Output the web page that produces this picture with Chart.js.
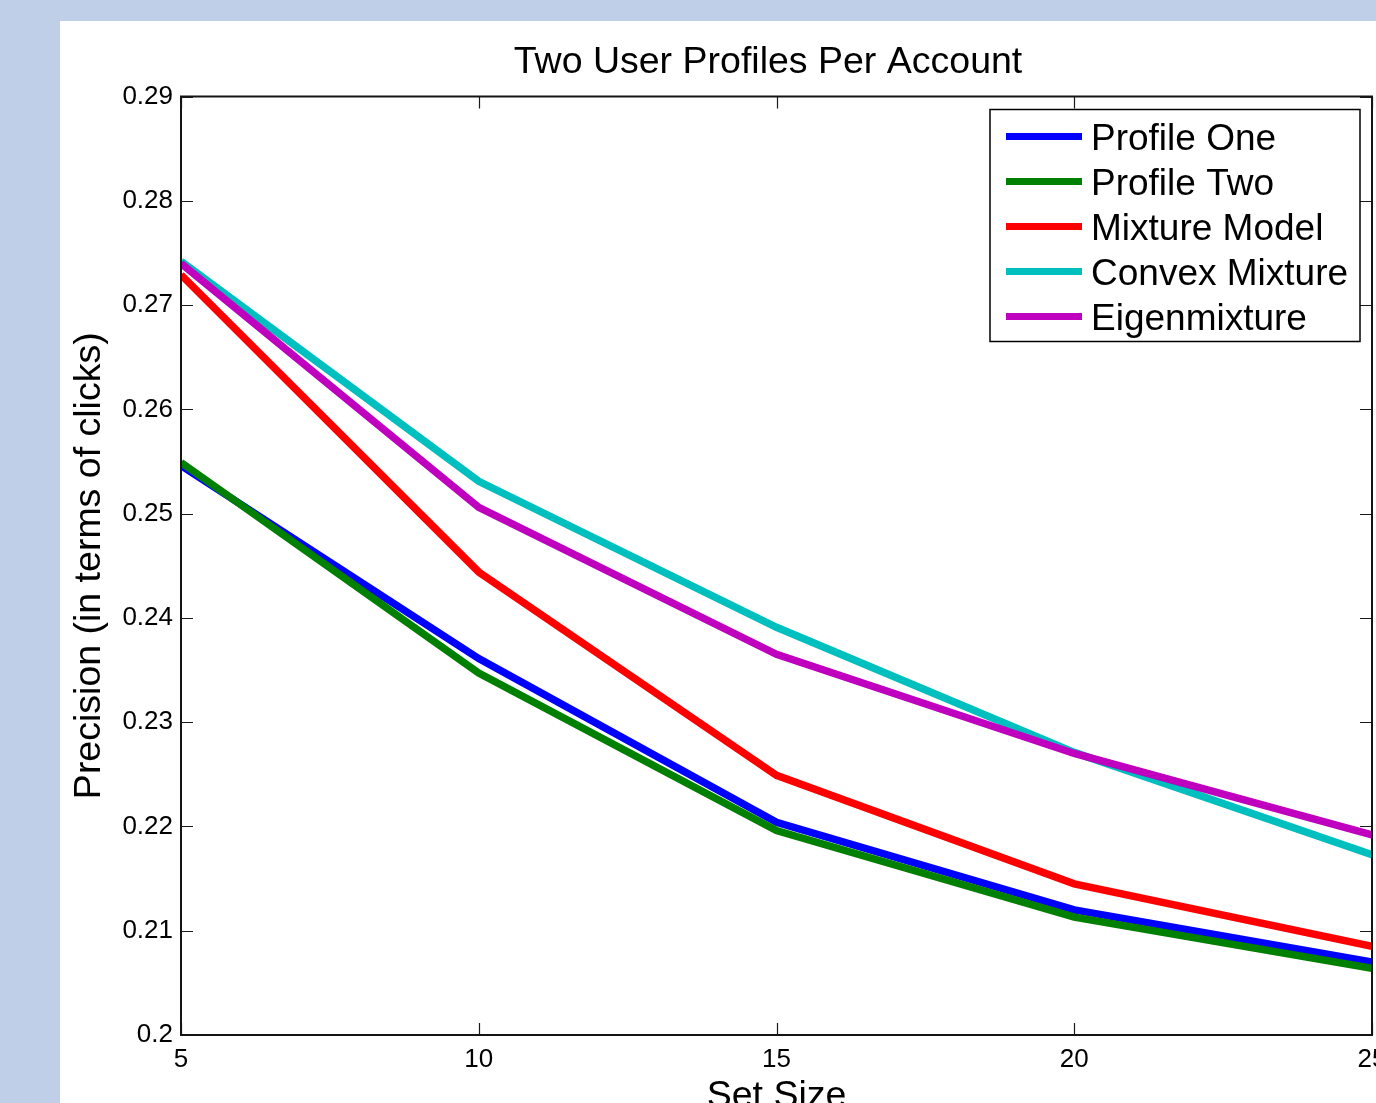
<!DOCTYPE html>
<html>
<head>
<meta charset="utf-8">
<script src="https://cdn.jsdelivr.net/npm/chart.js@4/dist/chart.umd.min.js"></script>
<style>
  html, body { margin: 0; padding: 0; width: 1376px; height: 1103px; overflow: hidden; background: #bfcfe8; }
  #panel { position: absolute; left: 60px; top: 21px; width: 1460px; height: 1200px; background: #ffffff; }
  #wrap { position: absolute; left: 0; top: 0; width: 1416px; height: 1094px; }
</style>
</head>
<body>
<div id="panel"><div id="wrap"><canvas id="c"></canvas></div></div>
<script>
// ---- data ----
const setSizes = [5, 10, 15, 20, 25];
const profileOne     = [0.2546, 0.2361, 0.2204, 0.2120, 0.2070];
const profileTwo     = [0.2549, 0.2347, 0.2196, 0.2113, 0.2064];
const mixtureModel   = [0.2729, 0.2444, 0.2249, 0.2145, 0.2085];
const convexMixture  = [0.2742, 0.2531, 0.2391, 0.2271, 0.2173];
const eigenmixture   = [0.2740, 0.2506, 0.2365, 0.2270, 0.2192];
const seriesNames = ['Profile One', 'Profile Two', 'Mixture Model', 'Convex Mixture', 'Eigenmixture'];
const xTicks = [5, 10, 15, 20, 25];
const yTicks = [0.2, 0.21, 0.22, 0.23, 0.24, 0.25, 0.26, 0.27, 0.28, 0.29];
const yTickLabels = ['0.2', '0.21', '0.22', '0.23', '0.24', '0.25', '0.26', '0.27', '0.28', '0.29'];

const colors = ['#0000ff', '#008000', '#ff0000', '#00bfbf', '#bf00bf'];
const allSeries = [profileOne, profileTwo, mixtureModel, convexMixture, eigenmixture];
const FONT = "'Liberation Sans', Arial, Helvetica, sans-serif";

const datasets = allSeries.map((vals, i) => ({
  label: seriesNames[i],
  data: setSizes.map((x, j) => ({ x: x, y: vals[j] })),
  borderColor: colors[i],
  backgroundColor: colors[i],
  borderWidth: 7.5,
  pointRadius: 0,
  tension: 0,
  fill: false,
  order: allSeries.length - i,
  borderJoinStyle: 'miter',
  borderCapStyle: 'butt',
  yAxisID: 'y'
}));

const boxPlugin = {
  id: 'matlabBox',
  afterDatasetsDraw(chart) {
    const { ctx, chartArea: a, scales } = chart;
    ctx.save();
    ctx.strokeStyle = '#1a1a1a';
    ctx.lineWidth = 1.2;
    const tl = 12;
    ctx.beginPath();
    xTicks.forEach(v => {
      const px = Math.round(scales.x.getPixelForValue(v)) + 0.5;
      ctx.moveTo(px, a.bottom); ctx.lineTo(px, a.bottom - tl);
      ctx.moveTo(px, a.top); ctx.lineTo(px, a.top + tl);
    });
    yTicks.forEach(v => {
      const py = Math.round(scales.y.getPixelForValue(v)) + 0.5;
      ctx.moveTo(a.left, py); ctx.lineTo(a.left + tl, py);
      ctx.moveTo(a.right, py); ctx.lineTo(a.right - tl, py);
    });
    ctx.stroke();
    ctx.lineWidth = 2;
    ctx.strokeStyle = '#141414';
    ctx.strokeRect(a.left, a.top, a.right - a.left, a.bottom - a.top);

    // legend box inside the axes (upper right)
    const lx = a.right - 12 - 370, ly = a.top + 13, lw = 370, lh = 232;
    ctx.fillStyle = '#ffffff';
    ctx.fillRect(lx, ly, lw, lh);
    ctx.lineWidth = 1.5;
    ctx.strokeStyle = '#000000';
    ctx.strokeRect(lx, ly, lw, lh);
    ctx.font = '37px ' + FONT;
    ctx.textBaseline = 'middle';
    ctx.textAlign = 'left';
    chart.data.datasets.forEach((ds, i) => {
      const cy = ly + 27 + i * 45;
      ctx.strokeStyle = ds.borderColor;
      ctx.lineWidth = 7;
      ctx.beginPath();
      ctx.moveTo(lx + 16, cy); ctx.lineTo(lx + 92, cy);
      ctx.stroke();
      ctx.fillStyle = '#000000';
      ctx.fillText(ds.label, lx + 101, cy + 3);
    });
    ctx.restore();
  }
};

new Chart(document.getElementById('c'), {
  type: 'line',
  data: { datasets: datasets },
  plugins: [boxPlugin],
  options: {
    responsive: true,
    maintainAspectRatio: false,
    animation: false,
    events: [],
    layout: { padding: { left: 0, right: 0, top: 0, bottom: 0 } },
    plugins: {
      legend: { display: false },
      tooltip: { enabled: false },
      title: {
        display: true,
        text: 'Two User Profiles Per Account',
        color: '#000000',
        font: { family: FONT, size: 37.5, weight: 'normal', lineHeight: 1 },
        padding: { top: 23, bottom: 15 }
      }
    },
    scales: {
      x: {
        type: 'linear',
        min: 5, max: 25,
        afterBuildTicks: s => { s.ticks = xTicks.map(v => ({ value: v })); },
        afterFit: s => { s.height = 80; },
        grid: { display: false, drawTicks: false },
        border: { display: false },
        ticks: {
          color: '#000000', padding: 12, maxRotation: 0, autoSkip: false,
          font: { family: FONT, size: 26, lineHeight: 1 },
          callback: v => String(v)
        },
        title: {
          display: true, text: 'Set Size', color: '#000000',
          font: { family: FONT, size: 37.5, lineHeight: 1 },
          padding: { top: 3, bottom: 0 }
        }
      },
      y: {
        type: 'linear',
        position: 'left',
        min: 0.2, max: 0.29,
        afterBuildTicks: s => { s.ticks = yTicks.map(v => ({ value: v })); },
        afterFit: s => { s.width = 121; },
        grid: { display: false, drawTicks: false },
        border: { display: false },
        ticks: {
          color: '#000000', padding: 8, autoSkip: false,
          font: { family: FONT, size: 26, lineHeight: 1.2 },
          callback: (v, i) => yTickLabels[i]
        },
        title: {
          display: true, text: 'Precision (in terms of clicks)', color: '#000000',
          font: { family: FONT, size: 37.5, lineHeight: 1.2 },
          padding: { top: 7, bottom: 0 }
        }
      },
      yRight: {
        type: 'linear',
        position: 'right',
        min: 0.2, max: 0.29,
        afterFit: s => { s.width = 104; },
        grid: { display: false, drawTicks: false },
        border: { display: false },
        ticks: { display: false }
      }
    }
  }
});
</script>
</body>
</html>
